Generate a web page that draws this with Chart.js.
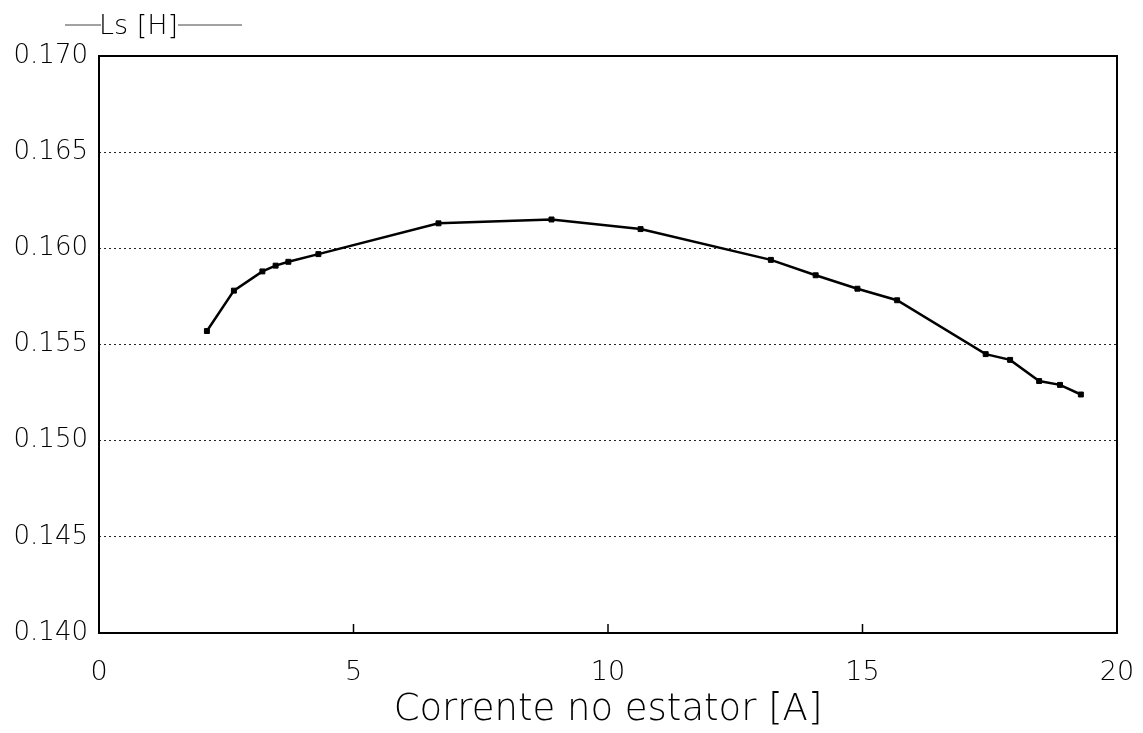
<!DOCTYPE html>
<html>
<head>
<meta charset="utf-8">
<script src="https://cdn.jsdelivr.net/npm/chart.js@4/dist/chart.umd.min.js"></script>
<style>
  html, body { margin: 0; padding: 0; background: #fff; }
  #wrap { width: 1143px; height: 733px; }
</style>
</head>
<body>
<div id="wrap"><canvas id="c" width="1143" height="733"></canvas></div>
<script>
// Stator current [A] and measured stator inductance Ls [H]
const current = [2.12, 2.65, 3.21, 3.47, 3.72, 4.31, 6.67, 8.89, 10.64, 13.20, 14.08, 14.90, 15.68, 17.42, 17.90, 18.47, 18.88, 19.29];
const inductance = [0.1557, 0.1578, 0.1588, 0.1591, 0.1593, 0.1597, 0.1613, 0.1615, 0.1610, 0.1594, 0.1586, 0.1579, 0.1573, 0.1545, 0.1542, 0.1531, 0.1529, 0.1524];
const xTicks = [0, 5, 10, 15, 20];
const yTicks = [0.140, 0.145, 0.150, 0.155, 0.160, 0.165, 0.170];
const seriesLabel = 'Ls [H]';
const xTitle = 'Corrente no estator [A]';

const FONT = '"DejaVu Sans", "Liberation Sans", sans-serif';
const WEIGHT = 200;

const points = current.map((x, i) => ({ x, y: inductance[i] }));

// Frame around the plot, inward ticks on the x axis and the series key at top left
const framePlugin = {
  id: 'frame',
  afterDraw(chart) {
    const { ctx, chartArea: a, scales } = chart;
    ctx.save();
    ctx.strokeStyle = '#000';
    ctx.lineWidth = 2;
    ctx.strokeRect(a.left, a.top, a.right - a.left, a.bottom - a.top);
    ctx.lineWidth = 1.5;
    xTicks.forEach(v => {
      const px = scales.x.getPixelForValue(v);
      ctx.beginPath();
      ctx.moveTo(px, a.bottom);
      ctx.lineTo(px, a.bottom - 9);
      ctx.stroke();
    });
    // key: line – label – line
    ctx.font = WEIGHT + ' 27px ' + FONT;
    ctx.fillStyle = '#000';
    ctx.textBaseline = 'middle';
    ctx.textAlign = 'left';
    const tx = 99, ty = 27;
    const w = ctx.measureText(seriesLabel).width;
    ctx.lineWidth = 1;
    ctx.strokeStyle = '#444';
    ctx.beginPath();
    ctx.moveTo(65, 25); ctx.lineTo(tx + 2, 25);
    ctx.moveTo(tx + w, 25); ctx.lineTo(242, 25);
    ctx.stroke();
    ctx.fillText(seriesLabel, tx, ty);
    ctx.restore();
  }
};

new Chart(document.getElementById('c'), {
  type: 'line',
  data: {
    datasets: [{
      label: seriesLabel,
      data: points,
      borderColor: '#000',
      backgroundColor: '#000',
      borderWidth: 2.5,
      pointRadius: 3.5,
      pointStyle: 'rect',
      pointBackgroundColor: '#000',
      pointBorderColor: '#000',
      pointBorderWidth: 1,
      tension: 0,
      fill: false
    }]
  },
  options: {
    responsive: false,
    animation: false,
    devicePixelRatio: 1,
    layout: { padding: { left: 0, right: 26, top: 56, bottom: 0 } },
    plugins: {
      legend: { display: false },
      tooltip: { enabled: false }
    },
    scales: {
      x: {
        type: 'linear',
        min: 0,
        max: 20,
        afterBuildTicks(scale) { scale.ticks = xTicks.map(v => ({ value: v })); },
        afterFit(scale) { scale.height = 100; scale.paddingLeft = 0; scale.paddingRight = 0; },
        grid: { display: false, drawTicks: false },
        border: { display: false },
        ticks: {
          color: '#000',
          font: { family: FONT, size: 27, weight: WEIGHT },
          padding: 24,
          maxRotation: 0,
          callback: v => String(v)
        },
        title: {
          display: true,
          text: xTitle,
          color: '#000',
          font: { family: FONT, size: 37, weight: WEIGHT },
          padding: { top: 0, bottom: 0 }
        }
      },
      y: {
        type: 'linear',
        min: 0.140,
        max: 0.170,
        afterBuildTicks(scale) { scale.ticks = yTicks.map(v => ({ value: v })); },
        afterFit(scale) { scale.width = 99; scale.paddingTop = 0; scale.paddingBottom = 0; },
        grid: {
          drawTicks: false,
          color: ctx => (ctx.tick && (ctx.tick.value <= 0.1401 || ctx.tick.value >= 0.1699)) ? 'rgba(0,0,0,0)' : '#222',
          lineWidth: 1
        },
        border: { display: false, dash: [2, 3] },
        ticks: {
          color: '#000',
          font: { family: FONT, size: 26, weight: WEIGHT },
          padding: 11,
          callback: v => v.toFixed(3)
        }
      }
    }
  },
  plugins: [framePlugin]
});
</script>
</body>
</html>
